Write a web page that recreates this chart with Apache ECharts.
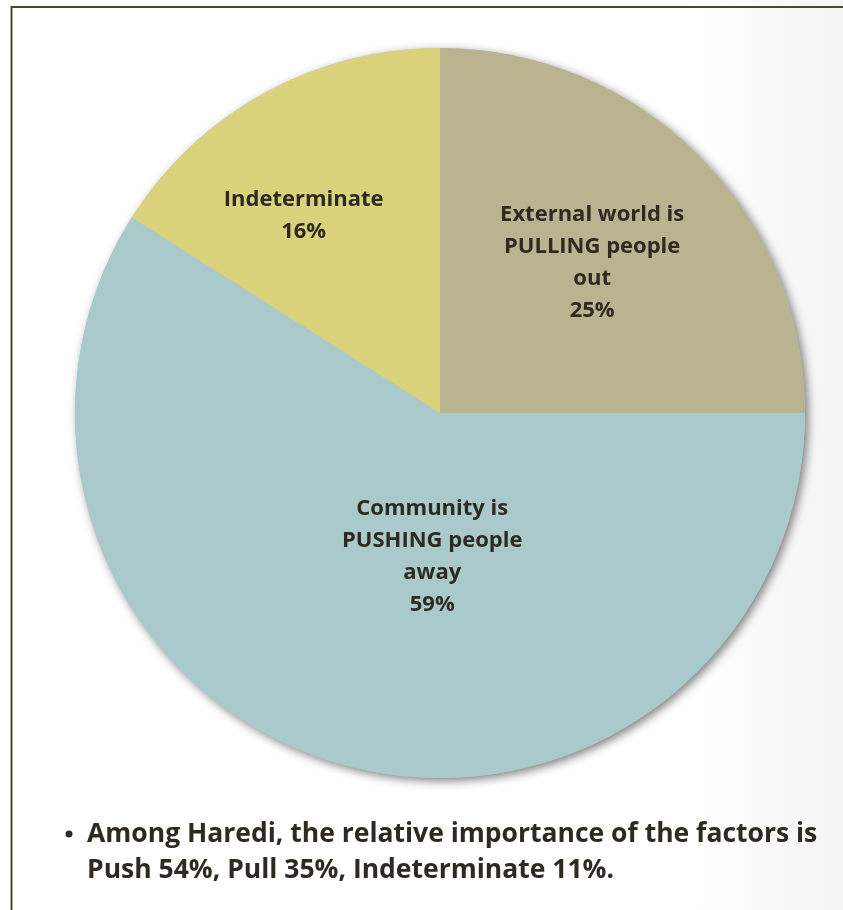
<!DOCTYPE html>
<html>
<head>
<meta charset="utf-8">
<script src="https://cdn.jsdelivr.net/npm/echarts@6/dist/echarts.min.js"></script>
<style>
  html, body { margin: 0; padding: 0; }
  body { width: 843px; height: 910px; background: linear-gradient(to right, #ffffff 0%, #ffffff 82%, #f4f4f4 100%); }
  #chart { width: 843px; height: 910px; }
</style>
</head>
<body>
<div id="chart"></div>
<script>
// Why people leave: share of responses by factor
const categories = [
  'External world is\nPULLING people\nout',
  'Community is\nPUSHING people\naway',
  'Indeterminate'
];
const shares = [25, 59, 16];
const sliceColors = ['#b9b38f', '#aac9ca', '#dbd27c'];
// label nudges away from the default mid-radius spot
const labelNudge = [[21, -19], [44, -34], [-47, -35]];

const noteLines = [
  'Among Haredi, the relative importance of the factors is',
  'Push 54%, Pull 35%, Indeterminate 11%.'
];

const textColor = '#2e2a22';
const fontFamily = '"Open Sans", sans-serif';
const center = [440, 413];
const radius = 365;

const chart = echarts.init(document.getElementById('chart'), null, { renderer: 'canvas' });

const pieData = categories.map((name, i) => ({
  name: name,
  value: shares[i],
  itemStyle: { color: sliceColors[i] },
  label: { offset: labelNudge[i] }
}));

chart.setOption({
  animation: false,
  series: [
    {
      // soft drop shadow under the whole disc
      type: 'pie',
      silent: true,
      z: 1,
      center: center,
      radius: radius,
      data: [{ value: 1, itemStyle: { color: '#aac9ca' } }],
      label: { show: false },
      labelLine: { show: false },
      itemStyle: {
        shadowBlur: 10,
        shadowColor: 'rgba(0,0,0,0.5)',
        shadowOffsetX: 3,
        shadowOffsetY: 3
      }
    },
    {
      type: 'pie',
      z: 2,
      center: center,
      radius: radius,
      startAngle: 90,
      clockwise: true,
      data: pieData,
      itemStyle: { borderWidth: 0 },
      label: {
        show: true,
        position: 'inside',
        formatter: '{b}\n{c}%',
        fontFamily: fontFamily,
        fontWeight: 'bold',
        fontSize: 22,
        lineHeight: 32,
        color: textColor,
        align: 'center'
      },
      labelLine: { show: false },
      emphasis: { disabled: true }
    }
  ],
  graphic: [
    {
      type: 'polyline',
      shape: { points: [[11.5, 910], [11.5, 7], [843, 7]] },
      style: { stroke: '#4a473a', lineWidth: 2, fill: null }
    },
    {
      type: 'circle',
      shape: { cx: 69, cy: 834, r: 3.5 },
      style: { fill: textColor }
    },
    {
      type: 'text',
      left: 87,
      top: 816,
      style: {
        text: noteLines.join('\n'),
        font: 'bold 26.5px "Open Sans", sans-serif',
        lineHeight: 36,
        fill: textColor
      }
    }
  ]
});
</script>
</body>
</html>
